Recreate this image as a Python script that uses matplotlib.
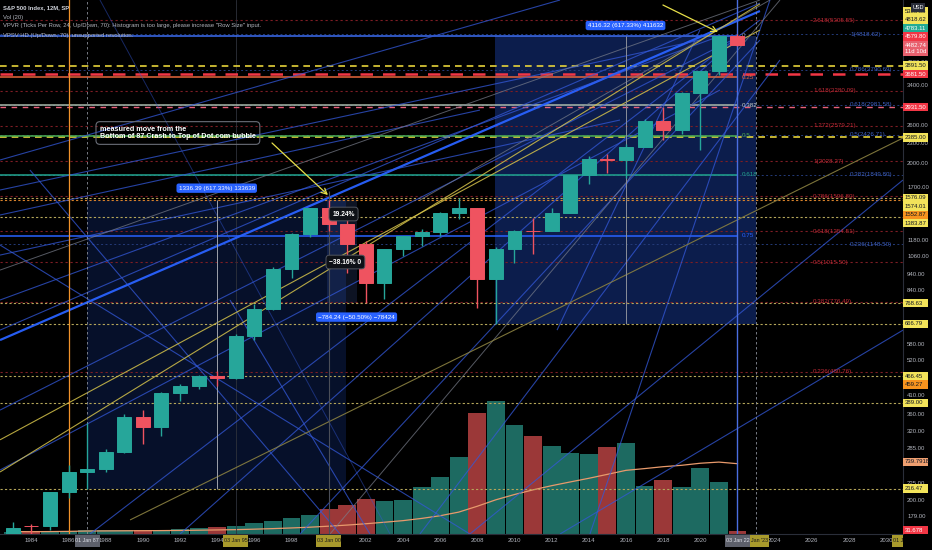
import matplotlib
matplotlib.use("Agg")
import matplotlib.pyplot as plt
from matplotlib.patches import Rectangle
from matplotlib.ticker import FixedLocator, FuncFormatter, NullLocator
from matplotlib.transforms import Bbox
import numpy as np
import pandas as pd

plt.rcParams['font.family'] = ['Liberation Sans Narrow', 'Liberation Sans', 'DejaVu Sans']

W, H, DPI = 932, 550, 100
BG = '#000000'
GRID_TXT = '#b2b5be'

# ---- yearly S&P 500 candles ----
years = list(range(1983, 2023))
opens = [140.65, 167.60, 167.24, 211.28, 242.17, 247.08, 277.72, 353.40, 330.22, 417.09,
         435.71, 466.45, 459.27, 615.93, 740.74, 970.43, 1229.23, 1469.25, 1320.28, 1148.08,
         879.82, 1111.92, 1211.92, 1248.29, 1418.30, 1468.36, 903.25, 1115.10, 1257.62, 1257.60,
         1426.19, 1848.36, 2058.90, 2043.94, 2238.83, 2673.61, 2506.85, 3230.78, 3764.61, 4778.14]
highs = [172.65, 170.41, 212.02, 254.00, 337.89, 283.95, 360.44, 369.78, 418.32, 442.65,
         471.29, 482.85, 621.69, 761.75, 986.25, 1244.93, 1473.10, 1552.87, 1383.37, 1176.97,
         1112.56, 1217.90, 1275.80, 1431.81, 1576.09, 1471.77, 1130.38, 1262.60, 1370.58, 1474.51,
         1849.44, 2093.55, 2134.72, 2277.53, 2694.97, 2940.91, 3247.93, 3760.20, 4808.93, 4818.62]
lows = [138.34, 147.82, 163.36, 203.49, 216.46, 242.63, 275.31, 294.51, 309.35, 394.42,
        426.88, 435.86, 457.20, 597.29, 733.54, 912.83, 1205.46, 1254.07, 944.75, 768.63,
        788.90, 1060.72, 1136.15, 1219.29, 1363.98, 741.02, 666.79, 1010.91, 1074.77, 1257.60,
        1426.19, 1737.92, 1867.01, 1810.10, 2245.13, 2346.58, 2443.96, 2191.86, 3662.71, 4449.56]
closes = [164.93, 167.24, 211.28, 242.17, 247.08, 277.72, 353.40, 330.22, 417.09, 435.71,
          466.45, 459.27, 615.93, 740.74, 970.43, 1229.23, 1469.25, 1320.28, 1148.08, 879.82,
          1111.92, 1211.92, 1248.29, 1418.30, 1468.36, 903.25, 1115.10, 1257.64, 1257.60, 1426.19,
          1848.36, 2058.90, 2043.94, 2238.83, 2673.61, 2506.85, 3230.78, 3756.07, 4766.18, 4482.74]
# yearly volume, billions of shares
volumes = [25, 23, 27, 33, 45, 37, 40, 41, 44, 50,
           64, 72, 82, 113, 134, 164, 195, 257, 298, 360,
           339, 349, 483, 585, 791, 1243, 1366, 1119, 1006, 904,
           832, 822, 893, 935, 493, 555, 483, 678, 534, 31.678]
vol_ma_label = 739.791

# ---- fibonacci retracement (left-extended levels) ----
fib_top, fib_base = 4783.11, 31.68
fib_ratios = [0, 0.25, 0.382, 0.5, 0.618, 0.75]
fib_colors = ['#3d6ef5', '#e8663c', '#a9b8a9', '#4caf50', '#22a68f', '#2962ff']
fib_label_colors = ['#9598a1', '#e8663c', '#c8cfc8', '#4caf50', '#22a68f', '#2962ff']

# ---- trend-based extension (dark red) ----
ext_ratios = ['2.618', '1.618', '1.272', '1', '0.786', '0.618', '0.5', '0.382', '0.236']
ext_prices = [5305.55, 3280.09, 2579.21, 2028.27, 1596.80, 1254.51, 1015.50, 776.49, 480.76]

# ---- second fib (blue labels) ----
blue_ratios = ['1', '0.786', '0.618', '0.5', '0.382', '0.236']
blue_prices = [4818.62, 3790.69, 2981.58, 2426.71, 1849.80, 1148.50]

# ---- horizontal key levels ----
key_prices = [3891.50, 3681.50, 2931.50, 2385.00, 1576.09, 1552.87, 1383.87,
              768.63, 666.79, 466.45, 389.00, 216.47]
key_styles = ['yellow_dash', 'red_dash', 'pink_dash', 'yellow_dash', 'dot', 'orange_dot', 'dot',
              'dot', 'dot', 'dot', 'dot', 'dot']

# ---- trend lines: start year, start price, end year, end price ----
tl_x0 = [1982.31, 1982.31, 1982.31, 1982.31, 1982.31, 1982.31, 1982.31, 1982.31,
         1987.15, 1992.0, 1998.46, 2004.91, 2012.29, 2014.06, 1982.31, 2012.45, 2007.6,
         2000.07, 1982.31, 2004.91,
         1982.31, 1987.69, 1994.69, 1983.92,
         1982.31, 1982.31, 1989.31]
tl_p0 = [597, 639, 785, 370, 245.7, 2043, 1664, 1403,
         158.7, 158.7, 158.7, 158.7, 639, 158.7, 1067, 158.7, 158.7,
         158.7, 963, 1554,
         1143, 6096, 785, 1908,
         302, 242.4, 174.7]
tl_x1 = [2023.21, 2023.21, 2021.06, 2022.14, 2021.06, 2012.45, 2019.98, 2008.14,
         2023.21, 2022.14, 2023.21, 2024.29, 2019.98, 2023.75, 2015.68, 2030.91, 2030.91,
         2024.29, 2023.21, 2023.75,
         2007.6, 2003.3, 2002.22, 2000.61,
         2023.21, 2023.21, 2030.91]
tl_p1 = [5654, 5972, 4766, 4766, 3296, 6096, 4637, 2874,
         5318, 4766, 4637, 4046, 4966, 6096, 2685, 639, 1782,
         6096, 6096, 6096,
         158.7, 158.7, 158.7, 158.7,
         4966, 5937, 2374]
tl_kind = ['bright', 'blue', 'blue', 'blue', 'blue', 'blue', 'blue', 'blue',
           'blue', 'blue', 'blue', 'blue', 'blue', 'blue', 'blue', 'blue', 'blue',
           'grey', 'grey', 'grey',
           'blue', 'faint', 'blue', 'blue',
           'yellow', 'yellow', 'khaki']

# ---- measurement ranges ----
rng1 = (1987.0, 2000.95, 216.46, 1552.87)
rng2 = (2008.95, 2023.0, 666.79, 4783.11)
drop = (1999.9, 2001.5, 768.63, 1552.87)

# ---- price-scale labels ----
lbl_prices = [5305.55, 4818.62, 4783.11, 4579.80, 4482.74, 3891.50, 3681.50, 2931.50,
              2385.00, 1576.09, 1574.01, 1552.87, 1383.87, 768.63, 666.79, 466.45,
              459.27, 389.00, 216.47]
lbl_texts = ['5305.55', '4818.62', '4783.11', '4579.80', '4482.74\n11d 10d', '3891.50', '3681.50',
             '2931.50', '2385.00', '1576.09', '1574.01', '1552.87', '1383.87', '768.63', '666.79',
             '466.45', '459.27', '389.00', '216.47']
lbl_kind = ['yellow', 'yellow', 'teal', 'red', 'pink', 'yellow', 'red', 'red',
            'yellow', 'yellow', 'yellow', 'orange', 'yellow', 'yellow', 'yellow',
            'yellow', 'orange', 'yellow', 'yellow']
price_ticks = [4000, 3400, 2600, 2300, 2000, 1700, 1180, 1060, 940, 840,
               580, 520, 410, 360, 320, 285, 225, 200, 179]

# ---- date scale ----
year_ticks = [y for y in range(1984, 2031, 2) if y not in (2000, 2022)]
date_lbl_x = [1987.0, 1995.0, 2000.0, 2022.0, 2023.0, 2031.0]
date_lbl_txt = ['01 Jan 87', '03 Jan 95', '03 Jan 00', '03 Jan 22', "Jan '23", '01 Jan 31']
date_lbl_kind = ['grey', 'olive', 'olive', 'grey', 'olive', 'olive']

LBL_STYLE = {
    'yellow': ('#f2e35a', '#131722'),
    'teal': ('#22ab94', '#ffffff'),
    'red': ('#f23645', '#ffffff'),
    'pink': ('#e8606e', '#ffffff'),
    'orange': ('#f7931e', '#131722'),
    'salmon': ('#f0a070', '#131722'),
    'grey': ('#5d606b', '#e0e3eb'),
    'olive': ('#a89a2c', '#1a1a1a'),
}
FS_AXIS = 4.3

# ------------------------------------------------------------------
fig = plt.figure(figsize=(W / DPI, H / DPI), dpi=DPI, facecolor=BG)
rect = [0, 16 / H, 903 / W, 534 / H]
axv = fig.add_axes(rect)
ax = fig.add_axes(rect, sharex=axv)
axv.set_facecolor(BG)
ax.patch.set_visible(False)
ax.set_zorder(2)
axv.set_zorder(1)

ax.set_xlim(1982.31, 2030.91)
ax.set_yscale('log')
ax.set_ylim(158.7, 6096)
axv.set_ylim(0, 534 * 10.27)

for a in (ax, axv):
    for s in a.spines.values():
        s.set_visible(False)
axv.tick_params(left=False, bottom=False, labelleft=False, labelbottom=False)
ax.spines['bottom'].set_visible(True)
ax.spines['bottom'].set_color('#2a2e39')
ax.spines['right'].set_visible(True)
ax.spines['right'].set_color('#2a2e39')

# volume + moving average
vcols = ['#1d6a61' if c >= o else '#9b3838' for o, c in zip(opens, closes)]
axv.bar(years, volumes, width=0.96, color=vcols, zorder=2)
vol_ma = pd.Series(volumes).rolling(20, min_periods=1).mean()
axv.plot(years, vol_ma, color='#e89a6c', lw=0.9, zorder=3)

xl0, xl1 = ax.get_xlim()

# measurement ranges
for (x0, x1, p0, p1), alpha in ((rng1, 0.17), (rng2, 0.30)):
    ax.add_patch(Rectangle((x0, p0), x1 - x0, p1 - p0, fc='#2962ff', alpha=alpha, lw=0, zorder=1))
ax.add_patch(Rectangle((drop[0], drop[2]), drop[1] - drop[0], drop[3] - drop[2],
                       fc='#5d8cff', alpha=0.14, lw=0, zorder=1))

# extension levels (dotted dark red) and blue fib levels
for p in ext_prices:
    ax.axhline(p, color='#7d1d24', lw=0.8, ls=(0, (2, 2.5)), zorder=2)
for r, p in zip(ext_ratios, ext_prices):
    ax.text(2026.07, p, f'{r}({p:.2f})', color='#c02a36', fontsize=4.5, va='center', ha='left', zorder=5)
for p in blue_prices:
    ax.axhline(p, color='#243a78', lw=0.7, ls=(0, (2, 2.5)), zorder=2)
for r, p in zip(blue_ratios, blue_prices):
    ax.text(2028.06, p, f'{r}({p:.2f})', color='#3d5fc0', fontsize=4.5, va='center', ha='left',
            zorder=5, clip_on=True)

# key horizontal levels
for p, st in zip(key_prices, key_styles):
    if st == 'yellow_dash':
        ax.axhline(p, color='#e6d33a', lw=1.2, ls=(0, (4, 3)), zorder=3)
    elif st == 'red_dash':
        ax.axhline(p, color='#f23645', lw=1.8, ls=(0, (5, 4)), zorder=3)
    elif st == 'pink_dash':
        ax.axhline(p, color='#e8607a', lw=1.0, ls=(0, (4, 4)), zorder=3)
    elif st == 'orange_dot':
        ax.axhline(p, color='#d9822b', lw=0.8, ls=(0, (2, 2)), zorder=3)
    else:
        ax.axhline(p, color='#b5a65a', lw=0.8, ls=(0, (2, 2)), zorder=3)

# retracement levels, extended to the left
for r, c, lc in zip(fib_ratios, fib_colors, fib_label_colors):
    p = fib_top - r * (fib_top - fib_base)
    ax.hlines(p, xl0, 2022.0, color=c, lw=1.1, zorder=3)
    ax.text(2022.25, p, f'{r:g}', color=lc, fontsize=4.5, va='center', ha='left', zorder=5)

# trend lines
TL_STYLE = {'bright': ('#2962ff', 1.6, 0.95), 'blue': ('#3358d8', 0.8, 0.75),
            'faint': ('#3358d8', 0.7, 0.45),
            'grey': ('#7a7f8c', 0.7, 0.7), 'yellow': ('#d4c24a', 0.8, 0.85),
            'khaki': ('#8a8040', 0.8, 0.9)}
for x0, p0, x1, p1, k in zip(tl_x0, tl_p0, tl_x1, tl_p1, tl_kind):
    c, lw, al = TL_STYLE[k]
    ax.plot([x0, x1], [p0, p1], color=c, lw=lw, alpha=al, zorder=3, solid_capstyle='butt')

# vertical markers
ax.axvline(1986.0, color='#f0922a', lw=0.9, zorder=3)
ax.axvline(1987.0, color='#8a8e99', lw=0.6, ls=(0, (3, 3)), zorder=3)
ax.vlines(1994.0, rng1[2], rng1[3], color='#9ea2ab', lw=0.7, zorder=3)
ax.axvline(1995.0, color='#2e323b', lw=0.6, zorder=2)
ax.vlines(2000.0, 158.7, 1650, color='#4a4e58', lw=0.8, zorder=3)
ax.vlines(2016.0, rng2[2], rng2[3], color='#8a8e99', lw=0.7, zorder=3)
ax.axvline(2022.0, color='#4a6ee0', lw=1.0, zorder=3)
ax.axvline(2023.0, color='#8a8e99', lw=0.6, ls=(0, (3, 3)), zorder=3)

# candles
up_c, dn_c = '#26a69a', '#ef5360'
ccols = [up_c if c >= o else dn_c for o, c in zip(opens, closes)]
ax.vlines(years, lows, highs, colors=ccols, lw=1.0, zorder=6)
o_arr, c_arr = np.array(opens), np.array(closes)
ax.bar(years, np.abs(c_arr - o_arr), bottom=np.minimum(o_arr, c_arr), width=0.75,
       color=ccols, edgecolor=ccols, lw=0.7, zorder=7)

# measurement captions
cap = dict(color='white', fontsize=4.5, ha='center', va='center', zorder=9,
           textcoords='offset pixels',
           bbox=dict(boxstyle='round,pad=0.35', fc='#2962ff', ec='none'))
ax.annotate('1336.39 (617.33%) 133639', xy=((rng1[0] + rng1[1]) / 2, rng1[3]), xytext=(0, 12), **cap)
ax.annotate('4116.32 (617.33%) 411632', xy=((rng2[0] + rng2[1]) / 2, rng2[3]), xytext=(0, 10), **cap)
ax.annotate('\u2212784.24 (\u221250.50%) \u221278424', xy=(drop[1], drop[2]), xytext=(0, -14), **cap)

boxed = dict(color='white', fontsize=4.8, fontweight='bold', ha='center', va='center', zorder=9,
             bbox=dict(boxstyle='round,pad=0.5', fc='#0e1117', ec='#50545e', lw=0.7))
ax.text(2000.8, 1412.6, '19.24%', **boxed)
ax.text(2000.9, 1017.6, '\u221238.16% 0', **boxed)

ax.text(1987.69, 2457, 'measured move from the\nBottom of 87 Crash to Top of Dot.com bubble',
        color='white', fontsize=5.2, fontweight='bold', ha='left', va='center', zorder=9,
        linespacing=1.15,
        bbox=dict(boxstyle='round,pad=0.55', fc='none', ec='#6a6e78', lw=0.8))
arrow = dict(arrowstyle='->', color='#e8e04a', lw=0.9, shrinkA=0, shrinkB=0)
ax.annotate('', xy=(1999.96, 1608), xytext=(1996.95, 2295), arrowprops=arrow, zorder=9)
ax.annotate('', xy=(2020.95, 4898), xytext=(2017.99, 5891), arrowprops=arrow, zorder=9)

# axes ticks
ax.yaxis.tick_right()
ax.yaxis.set_major_locator(FixedLocator(price_ticks))
ax.yaxis.set_minor_locator(NullLocator())
ax.yaxis.set_major_formatter(FuncFormatter(lambda v, p: f'{v:.2f}'))
ax.tick_params(axis='y', length=0, pad=3, labelsize=FS_AXIS, labelcolor=GRID_TXT)
ax.set_xticks(year_ticks)
ax.set_xticklabels([str(y) for y in year_ticks])
ax.tick_params(axis='x', length=0, pad=3, labelsize=FS_AXIS, labelcolor=GRID_TXT)

# ---- labels on the price scale ----
def img_y(a, v):
    return H - a.transData.transform((2000.0, v))[1]

UP = 4.2  # box extent above the first text line's centre
ys = [img_y(ax, p) for p in lbl_prices]
hs = [15.0 if '\n' in t else 8.4 for t in lbl_texts]
fixed = lbl_prices.index(4482.74)
pos = {fixed: ys[fixed]}
above = sorted([i for i in range(len(ys)) if ys[i] < ys[fixed]], key=lambda i: -ys[i])
prev = fixed
for i in above:
    pos[i] = min(ys[i], pos[prev] - UP - (hs[i] - UP))
    prev = i
below = sorted([i for i in range(len(ys)) if ys[i] > ys[fixed]], key=lambda i: ys[i])
prev = fixed
for i in below:
    pos[i] = max(ys[i], pos[prev] + (hs[prev] - UP) + UP)
    prev = i


def scale_label(yc, h, text, kind):
    fc, tc = LBL_STYLE[kind]
    top = yc - UP
    fig.add_artist(Rectangle((903 / W, 1 - (top + h) / H), 25 / W, h / H,
                             transform=fig.transFigure, fc=fc, ec='none', zorder=10))
    fig.text(905 / W, 1 - (top + h / 2) / H, text, color=tc, fontsize=FS_AXIS, ha='left',
             va='center', linespacing=1.25, zorder=11)


for i in range(len(lbl_prices)):
    scale_label(pos[i], hs[i], lbl_texts[i], lbl_kind[i])
scale_label(img_y(axv, vol_ma_label), 8.4, f'{vol_ma_label:.3f}B', 'salmon')
scale_label(min(img_y(axv, volumes[-1]), 530), 8.4, f'{volumes[-1]:.3f}', 'red')

# currency badge
fig.add_artist(Rectangle((911 / W, 1 - 12 / H), 14 / W, 9 / H, transform=fig.transFigure,
                         fc='#2a2e39', ec='none', zorder=12))
fig.text(918 / W, 1 - 7.5 / H, 'USD', color='white', fontsize=4.0, ha='center', va='center', zorder=13)

# ---- labels on the date scale (sized to their text, pushed right so they never overlap) ----
renderer = fig.canvas.get_renderer()
clip = Bbox.from_extents(0, 0, 903, H)
prev_right = -1e9
for xv, t, k in zip(date_lbl_x, date_lbl_txt, date_lbl_kind):
    fc, tc = LBL_STYLE[k]
    xc = ax.transData.transform((xv, 1000))[0]
    tx = fig.text(0, 1 - 541 / H, t, color=tc, fontsize=3.9, ha='center', va='center', zorder=11)
    bw = tx.get_window_extent(renderer).width + 1.5
    left = max(xc - bw / 2, prev_right + 0.3)
    prev_right = left + bw
    tx.set_x((left + bw / 2) / W)
    r = Rectangle((left / W, 1 - 547 / H), bw / W, 12 / H, transform=fig.transFigure,
                  fc=fc, ec='none', zorder=10)
    r.set_clip_box(clip)
    fig.add_artist(r)
    tx.set_clip_box(clip)
    tx.set_clip_on(True)

# ---- legend lines, top left ----
legend_rows = ['S&P 500 Index, 12M, SP', 'Vol (20)',
               'VPVR (Ticks Per Row, 24, Up/Down, 70): Histogram is too large, please increase "Row Size" input.',
               'VPSV HD (Up/Down, 70): unsupported resolution.']
for k, row in enumerate(legend_rows):
    fig.text(3 / W, 1 - (8 + 9 * k) / H, row, color='#d1d4dc' if k == 0 else GRID_TXT,
             fontsize=4.2, ha='left', va='center', zorder=12,
             fontweight='bold' if k == 0 else 'normal')

fig.savefig('out.png', dpi=DPI, facecolor=BG)
